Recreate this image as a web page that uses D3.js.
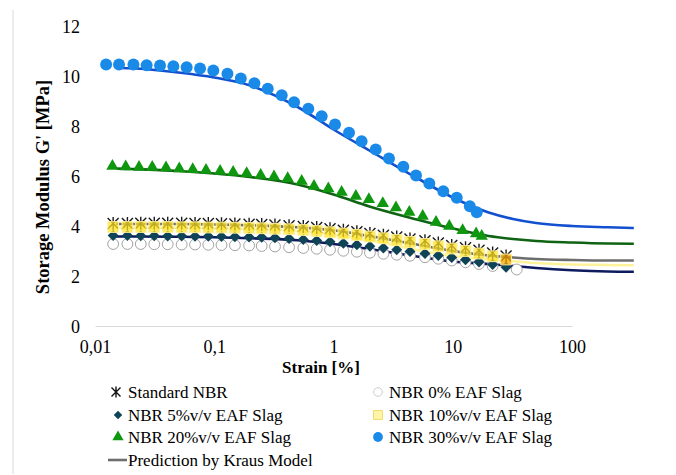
<!DOCTYPE html>
<html><head><meta charset="utf-8">
<script src="https://cdn.jsdelivr.net/npm/d3@7"></script>
<style>
body{margin:0;background:#fff}
svg{display:block}
text{font-family:"Liberation Serif","Times New Roman",serif;fill:#000}
</style>
</head><body>
<svg id="c" width="676" height="475"></svg>
<script>
// ---------- data ----------
const xTicks = [0.01, 0.1, 1, 10, 100];
const xTickLabels = ["0,01", "0,1", "1", "10", "100"];
const yTicks = [0, 2, 4, 6, 8, 10, 12];

// strain [%] of the measurements
const strainLow = [0.0142,0.0187,0.0242,0.0314,0.0407,0.0533,0.0690,0.0892,0.115,0.149,0.196,0.250,0.323,0.424,0.558,0.723,0.935,1.21,1.57,2.02,2.62,3.39,4.38,5.85,7.57,9.80,12.8,16.6,21.6,28.0];
const strainZero = [0.0142,0.0187,0.0242,0.0314,0.0407,0.0533,0.0690,0.0892,0.115,0.149,0.196,0.250,0.323,0.424,0.558,0.723,0.935,1.21,1.57,2.02,2.62,3.39,4.38,5.85,7.57,9.80,12.8,16.6,21.6,34.4];
const strain20 = [0.0140,0.0181,0.0234,0.0302,0.0394,0.0509,0.0660,0.0853,0.112,0.144,0.187,0.245,0.317,0.413,0.541,0.686,0.905,1.17,1.54,1.98,2.59,3.34,4.32,5.60,7.24,9.35,12.1,15.7,17.5];
const strain30 = [0.0124,0.0159,0.0210,0.0271,0.0351,0.0454,0.0587,0.0760,0.0982,0.129,0.167,0.217,0.281,0.368,0.467,0.615,0.796,1.03,1.35,1.72,2.26,2.92,3.85,4.92,6.36,8.33,10.8,13.9,15.9];

const gStandard = [4.12,4.12,4.13,4.13,4.13,4.13,4.12,4.12,4.11,4.10,4.09,4.08,4.06,4.03,4.00,3.96,3.91,3.85,3.79,3.72,3.65,3.58,3.50,3.43,3.34,3.24,3.15,3.05,2.94,2.82];
const g0 = [3.30,3.30,3.30,3.29,3.29,3.28,3.28,3.27,3.26,3.25,3.24,3.22,3.20,3.17,3.14,3.11,3.07,3.03,2.99,2.95,2.91,2.87,2.83,2.77,2.71,2.64,2.57,2.50,2.42,2.28];
const g5 = [3.64,3.64,3.63,3.63,3.62,3.62,3.61,3.61,3.60,3.59,3.58,3.57,3.55,3.52,3.48,3.44,3.39,3.33,3.27,3.21,3.14,3.07,3.00,2.92,2.84,2.76,2.67,2.58,2.48,2.37];
const g10 = [3.98,3.98,3.98,3.98,3.98,3.97,3.97,3.96,3.96,3.95,3.94,3.93,3.91,3.89,3.86,3.82,3.77,3.72,3.66,3.60,3.53,3.46,3.38,3.30,3.21,3.12,3.02,2.92,2.81,2.68];
const g20 = [6.41,6.39,6.37,6.37,6.35,6.31,6.28,6.25,6.21,6.17,6.12,6.05,5.99,5.92,5.81,5.61,5.51,5.37,5.21,5.08,4.92,4.75,4.57,4.41,4.17,4.01,3.84,3.71,3.61];
const g30 = [10.48,10.48,10.48,10.45,10.44,10.41,10.37,10.32,10.24,10.11,9.92,9.73,9.51,9.25,8.97,8.71,8.41,8.08,7.75,7.41,7.08,6.72,6.39,6.04,5.72,5.41,5.15,4.81,4.57];

// Kraus model predictions
const krausStrain = [0.015,0.02,0.05,0.1,0.2,0.5,1,2,5,10,20,32,50,100,200,330];
const krausStandard = [4.10,4.10,4.10,4.08,4.05,3.97,3.85,3.62,3.28,3.02,2.84,2.76,2.70,2.66,2.64,2.64];
const kraus5 = [3.60,3.60,3.59,3.57,3.53,3.45,3.30,3.10,2.80,2.60,2.50,2.42,2.34,2.25,2.20,2.19];
const kraus10 = [3.96,3.96,3.95,3.93,3.90,3.82,3.68,3.45,3.06,2.82,2.68,2.61,2.54,2.48,2.46,2.45];
const kraus20 = [6.32,6.30,6.22,6.12,5.98,5.68,5.28,4.80,4.28,3.92,3.62,3.50,3.42,3.36,3.32,3.31];
const kraus30 = [10.35,10.33,10.16,9.96,9.64,8.78,7.88,7.04,5.94,5.16,4.56,4.30,4.14,4.02,3.97,3.94];

const legendLabels = ["Standard NBR","NBR 0% EAF Slag","NBR 5%v/v EAF Slag","NBR 10%v/v EAF Slag","NBR 20%v/v EAF Slag","NBR 30%v/v EAF Slag","Prediction by Kraus Model"];

// ---------- drawing ----------
const svg = d3.select("#c");
const x = d3.scaleLog().domain([0.01, 100]).range([95, 572]);
const y = d3.scaleLinear().domain([0, 12]).range([326.5, 26.5]);

// chart frame (left edge visible)
svg.append("line").attr("x1",13).attr("x2",13).attr("y1",10).attr("y2",474)
  .attr("stroke","#d9d9d9").attr("stroke-width",1);

// x axis
const gx = svg.append("g").attr("transform","translate(0,326)")
  .call(d3.axisBottom(x).tickValues(xTicks).tickFormat((d,i)=>xTickLabels[i]).tickSize(0).tickPadding(18));
gx.select(".domain").attr("stroke","#d9d9d9").attr("stroke-width",1.2);
gx.selectAll("text").style("font-size","18px").attr("dy","0.71em").attr("y",14)
  .style("font-family",'"Liberation Serif",serif');

// y axis
const gy = svg.append("g").attr("transform","translate(88,0)")
  .call(d3.axisLeft(y).tickValues(yTicks).tickFormat(d3.format("d")).tickSize(0).tickPadding(8));
gy.select(".domain").remove();
gy.selectAll("text").style("font-size","18px").style("font-family",'"Liberation Serif",serif');

// axis titles
svg.append("text").attr("x",321).attr("y",373).attr("text-anchor","middle")
  .style("font-size","17px").style("font-weight","bold").text("Strain [%]");
svg.append("text").attr("transform","translate(49,187) rotate(-90)").attr("text-anchor","middle")
  .style("font-size","18.5px").style("font-weight","bold").text("Storage Modulus G' [MPa]");

// model lines
const line = d3.line().x(d=>x(d[0])).y(d=>y(d[1])).curve(d3.curveMonotoneX);
const models = [
  {v: krausStandard, c: "#6e6e6e"},
  {v: kraus10, c: "#FFF29A"},
  {v: kraus5, c: "#0d1b5e"},
  {v: kraus20, c: "#0f6312"},
  {v: kraus30, c: "#1250cf"}
];
models.forEach(m=>{
  svg.append("path").datum(krausStrain.map((s,i)=>[s,m.v[i]]))
    .attr("d", line).attr("fill","none").attr("stroke", m.c).attr("stroke-width",2.6);
});

// marker helpers
const asterisk = "M0,-6.5L0,6.5M-5.5,-5.5L5.5,5.5M-5.5,5.5L5.5,-5.5";
const diamond = d3.symbol().type(d3.symbolSquare).size(60)();
const sq = d3.symbol().type(d3.symbolSquare).size(115)();
const tri = d3.symbol().type(d3.symbolTriangle).size(66)();
const circ = d3.symbol().type(d3.symbolCircle).size(112)();
const circS = d3.symbol().type(d3.symbolCircle).size(92)();

function pts(strain, vals){ return strain.map((s,i)=>({s, v: vals[i], i})); }
function place(d){ return `translate(${x(d.s)},${y(d.v)})`; }

// Standard NBR
svg.append("g").selectAll("path").data(pts(strainLow,gStandard)).join("path")
  .attr("d",asterisk).attr("transform",place).attr("fill","none").attr("stroke","#1a1a1a").attr("stroke-width",1.4);
// 0 %
svg.append("g").selectAll("path").data(pts(strainZero,g0)).join("path")
  .attr("d",circS).attr("transform",place).attr("fill","#fff").attr("stroke","#a3a3a3").attr("stroke-width",1);
// 5 %
svg.append("g").selectAll("path").data(pts(strainLow,g5)).join("path")
  .attr("d",diamond).attr("transform",d=>place(d)+" rotate(45)").attr("fill","#0f4457");
// 10 %
svg.append("g").selectAll("path").data(pts(strainLow,g10)).join("path")
  .attr("d",sq).attr("transform",place)
  .attr("fill",d=>d.i===strainLow.length-1?"#F6A800":"#FFE21F").attr("fill-opacity",0.72)
  .attr("stroke","#FFF09A").attr("stroke-width",1);
// 20 %
svg.append("g").selectAll("path").data(pts(strain20,g20)).join("path")
  .attr("d",tri).attr("transform",place).attr("fill","#0f980f");
// 30 %
svg.append("g").selectAll("path").data(pts(strain30,g30)).join("path")
  .attr("d",circ).attr("transform",place).attr("fill","#1a8ae9");

// legend
const lg = svg.append("g").style("font-size","17px");
const legendPos = [
  {mx:116, tx:128, y:392}, {mx:378, tx:389, y:392},
  {mx:118, tx:128, y:415}, {mx:378, tx:389, y:415},
  {mx:118, tx:128, y:437}, {mx:378, tx:389, y:437},
  {mx:118, tx:128, y:460}
];
legendLabels.forEach((lab,i)=>{
  const p = legendPos[i];
  lg.append("text").attr("x",p.tx).attr("y",p.y+6).text(lab);
});
const lm = (i)=>`translate(${legendPos[i].mx},${legendPos[i].y})`;
lg.append("path").attr("d","M0,-5.5L0,5.5M-4.5,-4.5L4.5,4.5M-4.5,4.5L4.5,-4.5").attr("transform",lm(0)).attr("fill","none").attr("stroke","#111").attr("stroke-width",1.4);
lg.append("path").attr("d",d3.symbol().type(d3.symbolCircle).size(60)()).attr("transform",lm(1)).attr("fill","#fff").attr("stroke","#cfcfcf");
lg.append("path").attr("d",d3.symbol().type(d3.symbolSquare).size(36)()).attr("transform",lm(2)+" rotate(45)").attr("fill","#0f4457");
lg.append("path").attr("d",d3.symbol().type(d3.symbolSquare).size(80)()).attr("transform",lm(3)).attr("fill","#FFF5A6").attr("stroke","#EEDB6A");
lg.append("path").attr("d",d3.symbol().type(d3.symbolTriangle).size(55)()).attr("transform",lm(4)).attr("fill","#0f980f");
lg.append("path").attr("d",d3.symbol().type(d3.symbolCircle).size(75)()).attr("transform",lm(5)).attr("fill","#1a8ae9");
lg.append("line").attr("x1",108).attr("x2",127).attr("y1",460).attr("y2",460).attr("stroke","#6e6e6e").attr("stroke-width",2.6);
</script>
</body></html>
